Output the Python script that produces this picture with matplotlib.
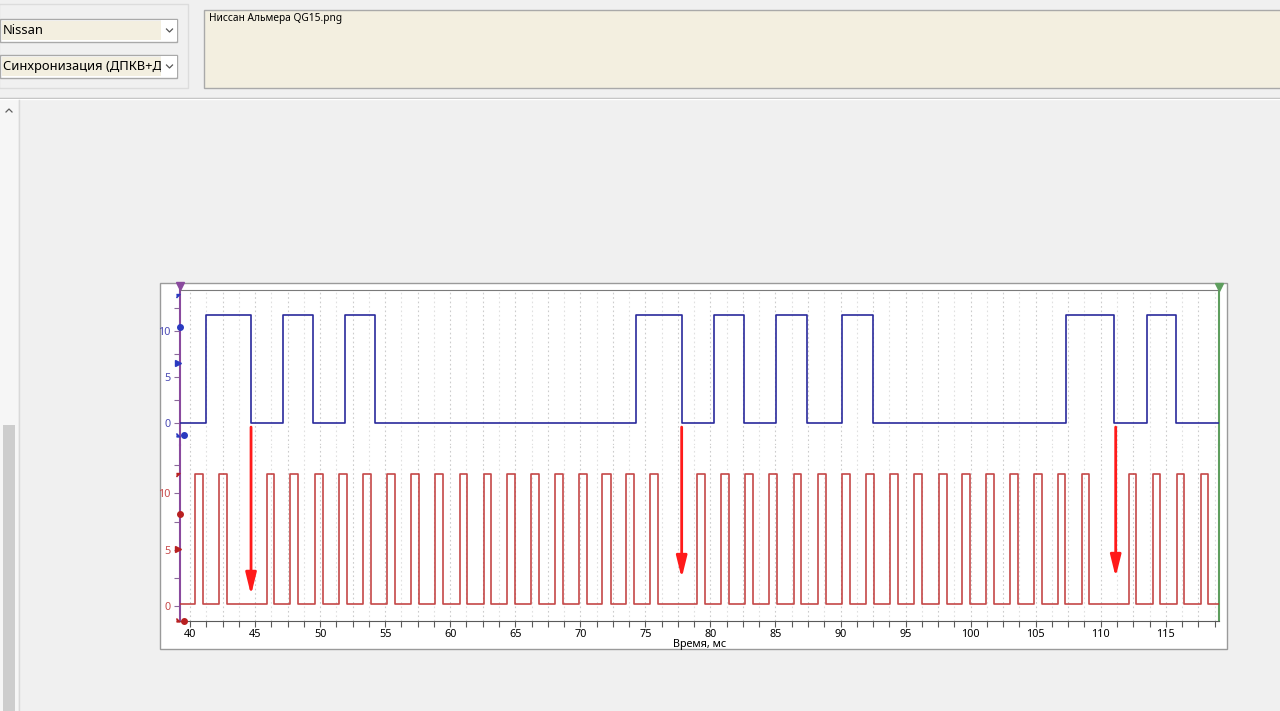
import numpy as np
import matplotlib
matplotlib.use('Agg')
import matplotlib.pyplot as plt
from matplotlib.patches import Rectangle
from matplotlib.ticker import MultipleLocator, FixedLocator

plt.rcParams['font.family'] = ['Noto Sans', 'DejaVu Sans']

W, H = 1280, 711

# time window of the oscillogram, ms
t_start = 39.23
t_end = 119.09

# camshaft sensor (blue channel), edge times in ms
cam_rise = [41.21, 47.17, 51.94, 74.26, 80.30, 85.04, 90.14, 107.33, 113.54]
cam_fall = [44.71, 49.45, 54.24, 77.79, 82.61, 87.45, 92.48, 111.02, 115.79]
cam_low, cam_high = 0.0, 11.7

# crankshaft sensor (red channel), edge times in ms
crank_rise = [40.38, 42.23, 45.90, 47.71, 49.61, 51.45, 53.30, 55.14, 56.99,
              58.83, 60.73, 62.57, 64.39, 66.21, 68.06, 69.88, 71.69, 73.49,
              75.36, 78.96, 80.82, 82.68, 84.53, 86.40, 88.25, 90.12, 91.96,
              93.83, 95.67, 97.55, 99.36, 101.21, 103.03, 104.87, 106.69,
              108.54, 112.15, 113.99, 115.84, 117.69]
crank_fall = [41.02, 42.82, 46.48, 48.32, 50.20, 52.04, 53.91, 55.73, 57.60,
              59.47, 61.31, 63.16, 65.00, 66.85, 68.67, 70.49, 72.34, 74.13,
              75.97, 79.56, 81.43, 83.27, 85.10, 86.99, 88.86, 90.71, 92.57,
              94.44, 96.29, 98.16, 99.95, 101.80, 103.62, 105.46, 107.28,
              109.12, 112.74, 114.56, 116.40, 118.27]
crank_low, crank_high = 0.15, 11.75

# arrows pointing at the missing teeth
gap_t = [44.69, 77.79, 111.15]
gap_tip = [0.98, 2.48, 2.57]
arrow_tail = 15.88

y_ticks = [0, 5, 10]

BLUE = '#2a2a9c'
RED = '#bf3434'
PURPLE = '#8a4a9e'
GREEN = '#5e9e5e'


def square_wave(rise, fall, lo, hi, t0, t1):
    x = [t0]
    y = [lo]
    for r, f in zip(rise, fall):
        x += [r, r, f, f]
        y += [lo, hi, hi, lo]
    x.append(t1)
    y.append(lo)
    return x, y


def px_axes(fig, x0, y0, x1, y1):
    return fig.add_axes([x0 / W, 1 - y1 / H, (x1 - x0) / W, (y1 - y0) / H])


fig = plt.figure(figsize=(W / 100, H / 100), dpi=100)
fig.patch.set_facecolor('#f0f0f0')

# window chrome drawn in pixel coordinates
bg = fig.add_axes([0, 0, 1, 1])
bg.set_xlim(0, W)
bg.set_ylim(H, 0)
bg.axis('off')
bg.add_patch(Rectangle((-1, 4), 189, 84, fc='none', ec='#dcdcdc', lw=1))
for yy, label in [(19, 'Nissan'), (55, 'Синхронизация (ДПКВ+ДI')]:
    bg.add_patch(Rectangle((0, yy), 177, 23, fc='white', ec='#a9a9a9', lw=1, zorder=1))
    bg.add_patch(Rectangle((2, yy + 2), 159, 19, fc='#f3efe0', ec='none', zorder=1))
    bg.text(3, yy + 11.5, label, fontsize=9.3, va='center', ha='left', color='black', zorder=2)
    # dropdown button covers the overflowing text
    bg.add_patch(Rectangle((161, yy + 1), 15.5, 21, fc='white', ec='none', zorder=3))
    bg.plot([166.5, 169.5, 172.5], [yy + 10, yy + 13, yy + 10], color='#555555', lw=0.9, zorder=4)
bg.add_patch(Rectangle((204, 10), 1080, 78, fc='#f3efe0', ec='#a9a9a9', lw=1))
bg.text(209, 19, 'Ниссан Альмера QG15.png', fontsize=7.3, va='center', ha='left', color='black')
bg.plot([0, W], [97.5, 97.5], color='#b9b9b9', lw=1)
bg.plot([0, W], [98.5, 98.5], color='white', lw=1)
bg.add_patch(Rectangle((0, 100), 18, 611, fc='#f6f6f6', ec='none'))
bg.plot([18.5, 18.5], [100, H], color='#d9d9d9', lw=1)
bg.plot([6, 9, 12], [112, 109, 112], color='#606060', lw=0.9)
bg.add_patch(Rectangle((3, 425), 12, 290, fc='#cdcdcd', ec='none'))
bg.add_patch(Rectangle((160, 283), 1067, 366, fc='white', ec='#9a9a9a', lw=1))

ax_cam = px_axes(fig, 180, 290, 1219, 445)
ax_crank = px_axes(fig, 180, 445, 1219, 620.7)

cam_x, cam_y = square_wave(cam_rise, cam_fall, cam_low, cam_high, t_start, t_end)
crank_x, crank_y = square_wave(crank_rise, crank_fall, crank_low, crank_high, t_start, t_end)

ax_cam.set_ylim(-2.34, 14.4)
ax_crank.set_ylim(-1.30, 14.29)

grid_minor = np.arange(38.75, 120, 1.25)
for ax in (ax_cam, ax_crank):
    ax.set_xlim(t_start, t_end)
    ax.set_facecolor('none')
    for g in grid_minor:
        is_major = abs(g / 2.5 - round(g / 2.5)) < 1e-6
        ax.axvline(g, color='#cccccc' if is_major else '#e0e0e0', lw=0.8,
                   ls=(0, (1.5, 2.5)), zorder=0)
    ax.spines['left'].set_color(PURPLE)
    ax.spines['left'].set_linewidth(1.5)
    ax.spines['right'].set_color(GREEN)
    ax.spines['right'].set_linewidth(1.5)
    ax.yaxis.set_major_locator(FixedLocator(y_ticks))
    ax.yaxis.set_minor_locator(MultipleLocator(2.5))
    ax.tick_params(axis='y', which='both', direction='out', length=4, width=0.8,
                   color='#8a6a9a', labelsize=7.8, pad=3)

ax_cam.spines['bottom'].set_visible(False)
ax_cam.spines['top'].set_color('#7a7a7a')
ax_cam.tick_params(axis='x', which='both', bottom=False, labelbottom=False)
ax_cam.tick_params(axis='y', labelcolor='#4a4ab4')
ax_crank.spines['top'].set_visible(False)
ax_crank.spines['bottom'].set_color('#5a5a5a')
ax_crank.tick_params(axis='y', labelcolor='#c84a4a')

ax_crank.xaxis.set_major_locator(MultipleLocator(5))
ax_crank.xaxis.set_minor_locator(MultipleLocator(1.25))
ax_crank.tick_params(axis='x', which='both', direction='out', length=4, width=0.8,
                     color='#5a5a5a', labelsize=7.8, pad=2)
ax_crank.set_xlabel('Время, мс', fontsize=7.8, labelpad=-1)

ax_cam.plot(cam_x, cam_y, color=BLUE, lw=1.2, zorder=3)
ax_crank.plot(crank_x, crank_y, color=RED, lw=1.2, alpha=0.9, zorder=3)

# channel markers on the left edge
px = 1 / 13.01
ax_cam.plot([t_start], [10.4], 'o', color='#2a3ac0', ms=4, clip_on=False, zorder=5)
ax_cam.plot([t_start - 2 * px], [6.5], '>', color='#2a3ac0', ms=5, clip_on=False, zorder=5)
ax_cam.plot([t_start - 4 * px], [14.0], marker=[(0, 0), (1, 0), (0, -1)], color='#2a3ac0',
            ms=5, clip_on=False, zorder=5)
ax_cam.plot([t_start - 4 * px], [-1.0], marker=[(0, 0), (1, -1), (0, -1)], color='#2a3ac0',
            ms=5, clip_on=False, zorder=5)
ax_cam.plot([t_start + 3.5 * px], [-1.25], 'o', color='#2a3ac0', ms=4, clip_on=False, zorder=5)
ax_crank.plot([t_start], [8.16], 'o', color='#b82020', ms=4, clip_on=False, zorder=5)
ax_crank.plot([t_start - 2 * px], [5.1], '>', color='#b82020', ms=5, clip_on=False, zorder=5)
ax_crank.plot([t_start - 3.5 * px], [11.8], marker=[(0, 0), (1, 0), (0, -1)], color='#b82020',
              ms=5, clip_on=False, zorder=5)
ax_crank.plot([t_start - 4 * px], [-1.1], marker=[(0, 0), (1, -1), (0, -1)], color='#b82020',
              ms=5, clip_on=False, zorder=5)
ax_crank.plot([t_start + 3.5 * px], [-1.3], 'o', color='#b82020', ms=4, clip_on=False, zorder=5)
ax_cam.plot([t_start], [14.83], 'v', color=PURPLE, ms=6, clip_on=False, zorder=5)
ax_cam.plot([t_end], [14.72], 'v', color=GREEN, ms=6, clip_on=False, zorder=5)

for gt, tip in zip(gap_t, gap_tip):
    ax_crank.annotate('', xy=(gt, tip), xytext=(gt, arrow_tail), annotation_clip=False,
                      arrowprops=dict(arrowstyle='-|>,head_length=1.3,head_width=0.32',
                                      color='#ff1a1a', lw=2, shrinkA=0, shrinkB=0,
                                      mutation_scale=10), zorder=6)

fig.savefig('out.png', dpi=100, facecolor=fig.get_facecolor())
